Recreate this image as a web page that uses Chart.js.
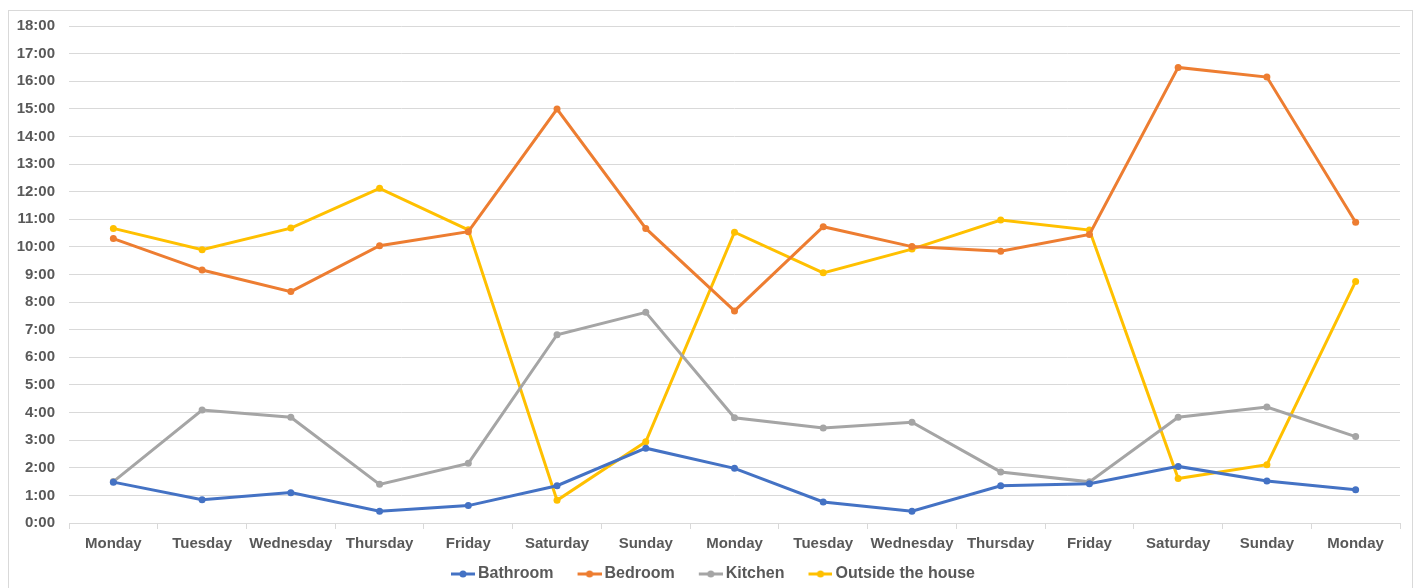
<!doctype html>
<html lang="en">
<head>
<meta charset="utf-8">
<script src="https://cdn.jsdelivr.net/npm/chart.js"></script>
<style>
html, body { margin: 0; padding: 0; background: #ffffff; overflow: hidden; }
#frame {
    position: absolute; left: 8px; top: 10px;
    width: 1403px; height: 600px;
    border: 1px solid #d9d9d9; background: #fff;
}
#chart { display: block; }
</style>
<title>Time spent per room</title>
</head>
<body>
<div id="frame"><canvas id="chart" width="1403" height="581"></canvas></div>
<script>
// categories (days of the recording)
const days = ['Monday', 'Tuesday', 'Wednesday', 'Thursday', 'Friday', 'Saturday', 'Sunday',
    'Monday', 'Tuesday', 'Wednesday', 'Thursday', 'Friday', 'Saturday', 'Sunday', 'Monday'];

// hours spent per day (decimal hours)
const bathroom = [1.48, 0.84, 1.10, 0.43, 0.63, 1.35, 2.71, 1.98, 0.76, 0.43, 1.35, 1.42, 2.05, 1.52, 1.20];
const bedroom  = [10.30, 9.16, 8.38, 10.04, 10.55, 14.99, 10.67, 7.68, 10.73, 10.01, 9.84, 10.45, 16.50, 16.15, 10.89];
const kitchen  = [1.50, 4.09, 3.83, 1.40, 2.16, 6.82, 7.63, 3.81, 3.44, 3.65, 1.85, 1.49, 3.83, 4.20, 3.13];
const outside  = [10.67, 9.90, 10.68, 12.12, 10.62, 0.82, 2.94, 10.53, 9.06, 9.92, 10.97, 10.61, 1.61, 2.11, 8.75];

const seriesNames = ['Bathroom', 'Bedroom', 'Kitchen', 'Outside the house'];
const seriesColors = ['#4472C4', '#ED7D31', '#A5A5A5', '#FFC000'];
const seriesData = [bathroom, bedroom, kitchen, outside];

const textColor = '#595959';
const gridColor = '#d9d9d9';

// line-with-dot marker for the legend; left part of the image is left blank
// so the visible marker sits a bit to the right of the legend box
function legendMarker(color) {
    const c = document.createElement('canvas');
    c.width = 46; c.height = 8;
    const g = c.getContext('2d');
    g.strokeStyle = color;
    g.lineWidth = 3;
    g.beginPath(); g.moveTo(22, 4); g.lineTo(46, 4); g.stroke();
    g.fillStyle = color;
    g.beginPath(); g.arc(34, 4, 3.5, 0, Math.PI * 2); g.fill();
    return c;
}

const datasets = seriesNames.map(function (name, i) {
    return {
        label: name,
        data: seriesData[i],
        borderColor: seriesColors[i],
        backgroundColor: seriesColors[i],
        borderWidth: 3,
        pointRadius: 3.5,
        pointHoverRadius: 4,
        pointBorderWidth: 0,
        tension: 0,
        fill: false,
        marker: legendMarker(seriesColors[i])
    };
});

new Chart(document.getElementById('chart'), {
    type: 'line',
    data: { labels: days, datasets: datasets },
    options: {
        responsive: false,
        animation: false,
        layout: { padding: { top: 15, right: 12, left: 0, bottom: 0 } },
        plugins: {
            tooltip: { enabled: false },
            legend: {
                position: 'bottom',
                labels: {
                    color: textColor,
                    font: { family: 'Liberation Sans', size: 16, weight: 'bold' },
                    usePointStyle: true,
                    pointStyleWidth: 36,
                    padding: 7,
                    generateLabels: function (chart) {
                        return chart.data.datasets.map(function (ds, i) {
                            return {
                                text: ds.label,
                                fontColor: textColor,
                                pointStyle: ds.marker,
                                strokeStyle: ds.borderColor,
                                fillStyle: ds.borderColor,
                                lineWidth: 0,
                                datasetIndex: i
                            };
                        });
                    }
                }
            }
        },
        scales: {
            x: {
                offset: true,
                grid: {
                    display: true,
                    offset: true,
                    drawOnChartArea: false,
                    drawTicks: true,
                    tickLength: 6,
                    color: gridColor
                },
                border: { display: true, color: gridColor, width: 1 },
                ticks: {
                    color: textColor,
                    font: { family: 'Liberation Sans', size: 15, weight: 'bold' },
                    padding: 6,
                    maxRotation: 0,
                    autoSkip: false
                }
            },
            y: {
                min: 0,
                max: 18,
                grid: { color: gridColor, lineWidth: 1, drawTicks: false },
                border: { display: false },
                ticks: {
                    stepSize: 1,
                    color: textColor,
                    font: { family: 'Liberation Sans', size: 15, weight: 'bold' },
                    padding: 14,
                    callback: function (v) { return v + ':00'; }
                },
                afterFit: function (scale) {
                    scale.width = 60;
                    scale.paddingTop = 0;
                    scale.paddingBottom = 0;
                }
            }
        }
    }
});
</script>
</body>
</html>
